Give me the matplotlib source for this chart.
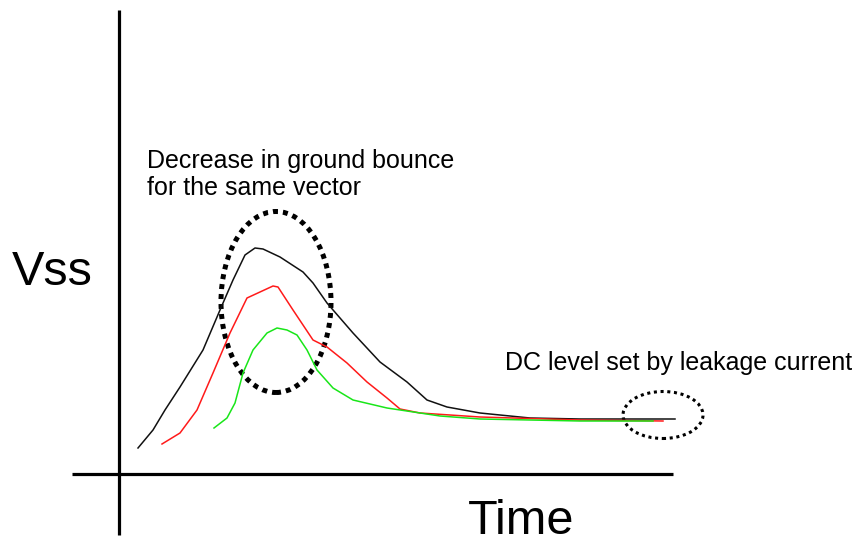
import matplotlib
matplotlib.use("Agg")
import matplotlib.pyplot as plt
from matplotlib.patches import Ellipse

plt.rcParams['font.family'] = ['Liberation Sans', 'DejaVu Sans']

# Ground-bounce waveforms (time, Vss) in arbitrary units
t_black = [19, 34, 46, 61, 84, 101, 114, 126, 136, 144, 161, 184, 194, 208,
           234, 261, 288, 308, 328, 361, 411, 461, 556]
v_black = [26, 44, 64, 87, 124, 164, 194, 219, 226, 225, 217, 202, 191, 171,
           141, 112, 92, 74, 67, 61, 56, 55, 55]

t_red = [43, 61, 78, 94, 111, 128, 141, 154, 159, 174, 194, 208, 228, 248,
         268, 281, 301, 361, 461, 544]
v_red = [30, 41, 64, 101, 141, 176, 182, 188, 187, 164, 134, 127, 111, 92,
         76, 65, 61, 57, 54, 53]

t_green = [95, 108, 116, 124, 134, 148, 158, 168, 178, 188, 198, 214, 234,
           268, 321, 361, 461, 534]
v_green = [46, 56, 71, 101, 124, 141, 146, 144, 139, 124, 104, 86, 74,
           66, 58, 55, 53, 53]

y_label = "Vss"
x_label = "Time"
note_peak = ["Decrease in ground bounce", "for the same vector"]
note_dc = "DC level set by leakage current"

fig = plt.figure(figsize=(8.57, 5.40), dpi=100)
ax = fig.add_axes([0, 0, 1, 1])
ax.set_xlim(-119, 738)
ax.set_ylim(-66, 474)
ax.axis('off')

# Hand-drawn style axes
ax.plot([0, 0], [-61, 464], color='black', lw=2.3, solid_capstyle='butt')
ax.plot([-47, 554], [0, 0], color='black', lw=2.3, solid_capstyle='butt')

ax.plot(t_black, v_black, color='#111111', lw=1.1)
ax.plot(t_red, v_red, color='#ff1a1a', lw=1.1)
ax.plot(t_green, v_green, color='#19e619', lw=1.1)

# Dotted highlight rings
ax.add_patch(Ellipse((157, 172), 110, 181, fill=False, edgecolor='black',
                     lw=3.6, linestyle=(0, (1, 1)), capstyle='butt'))
ax.add_patch(Ellipse((544, 59), 80, 47, fill=False, edgecolor='black',
                     lw=2.2, linestyle=(0, (1, 1.2)), capstyle='butt'))

ax.text(-107, 189, y_label, fontsize=35, va='baseline', ha='left')
ax.text(349, -60, x_label, fontsize=35, va='baseline', ha='left')
ax.text(28, 306, note_peak[0], fontsize=18, va='baseline', ha='left')
ax.text(28, 279, note_peak[1], fontsize=18, va='baseline', ha='left')
ax.text(386, 104, note_dc, fontsize=18, va='baseline', ha='left')

fig.savefig("out.png", dpi=100)
